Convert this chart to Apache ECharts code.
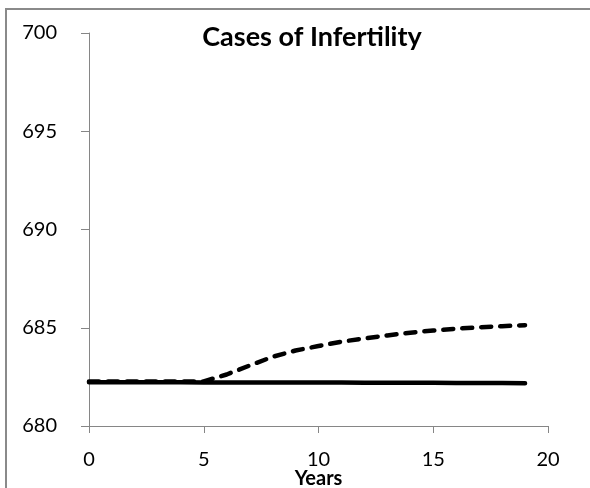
<!DOCTYPE html>
<html>
<head>
<meta charset="utf-8">
<script src="https://cdn.jsdelivr.net/npm/echarts@6/dist/echarts.min.js"></script>
<style>
html,body{margin:0;padding:0;background:#fff;}
#c{width:590px;height:488px;}
</style>
</head>
<body>
<div id="c"></div>
<script>
var years = [0,1,2,3,4,5,6,7,8,9,10,11,12,13,14,15,16,17,18,19];
var baseline = [682.23,682.23,682.23,682.23,682.23,682.22,682.22,682.21,682.21,682.21,682.21,682.21,682.20,682.20,682.20,682.20,682.19,682.19,682.19,682.18];
var scenario = [682.27,682.27,682.27,682.27,682.27,682.27,682.62,683.08,683.52,683.84,684.07,684.29,684.46,684.61,684.75,684.86,684.95,685.02,685.08,685.13];
var xTicks = [0,5,10,15,20];
var yTicks = [680,685,690,695,700];

function pairs(xs, ys){ return xs.map(function(x,i){ return [x, ys[i]]; }); }

var labelFont = 'Lato, sans-serif';
var chart = echarts.init(document.getElementById('c'), null, {renderer:'canvas'});
chart.setOption({
  animation: false,
  backgroundColor: '#fff',
  graphic: [{
    type: 'rect', z: -10, silent: true,
    shape: {x: 6, y: 9, width: 620, height: 600},
    style: {fill: 'none', stroke: '#8a8a8a', lineWidth: 2}
  }],
  title: {
    text: 'Cases of Infertility',
    left: 307, top: 19, textAlign: 'center',
    textStyle: {fontFamily: 'Lato, sans-serif', fontWeight: 'bold', fontSize: 27, color: '#000'}
  },
  grid: {left: 89, right: 42, top: 33, bottom: 62, containLabel: false, outerBoundsMode: 'none'},
  xAxis: {
    type: 'value', min: xTicks[0], max: xTicks[xTicks.length-1], interval: 5,
    name: 'Years', nameLocation: 'middle', nameGap: 43, nameMoveOverlap: false,
    nameTextStyle: {fontFamily: 'Lato, sans-serif', fontWeight: 'bold', fontSize: 20, color: '#000'},
    axisLine: {show: true, onZero: false, lineStyle: {color: '#868686', width: 1}},
    axisTick: {show: true, length: 7, lineStyle: {color: '#868686'}},
    axisLabel: {margin: 24, fontFamily: labelFont, fontSize: 20, color: '#000'},
    splitLine: {show: false}
  },
  yAxis: {
    type: 'value', min: yTicks[0], max: yTicks[yTicks.length-1], interval: 5,
    axisLine: {show: true, lineStyle: {color: '#868686', width: 1}},
    axisTick: {show: true, length: 8, lineStyle: {color: '#868686'}},
    axisLabel: {margin: 32, fontFamily: labelFont, fontSize: 20, color: '#000'},
    splitLine: {show: false}
  },
  series: [
    {
      type: 'line', name: 'scenario', data: pairs(years, scenario),
      showSymbol: false, symbol: 'none', z: 2,
      lineStyle: {color: '#000', width: 4.5, type: [10, 9], cap: 'round'}
    },
    {
      type: 'line', name: 'baseline', data: pairs(years, baseline),
      showSymbol: false, symbol: 'none', z: 3,
      lineStyle: {color: '#000', width: 4.5, cap: 'round'}
    }
  ]
});
</script>
</body>
</html>
